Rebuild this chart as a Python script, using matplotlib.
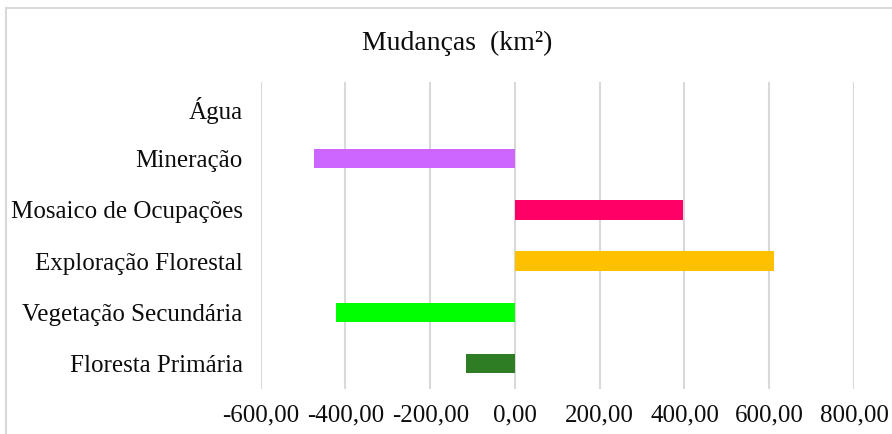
import numpy as np
import matplotlib.pyplot as plt
from matplotlib.lines import Line2D
from matplotlib.ticker import FuncFormatter

# dados (bottom to top)
categorias = ['Floresta Primária', 'Vegetação Secundária', 'Exploração Florestal',
              'Mosaico de Ocupações', 'Mineração', 'Água']
mudancas = [-115, -423, 611, 396, -474, 0]
cores = ['#2E7D24', '#00FF00', '#FFC000', '#FF0066', '#CC66FF', '#5B9BD5']
xticks = [-600, -400, -200, 0, 200, 400, 600, 800]

plt.rcParams['font.family'] = ['Liberation Serif', 'DejaVu Serif']

fig = plt.figure(figsize=(8.92, 4.34), dpi=100)
ax = fig.add_axes([0.2923, 0.1037, 0.6651, 0.7073])

y = np.arange(len(categorias))
ax.barh(y, mudancas, height=0.38, color=cores, zorder=3)

ax.set_xlim(-600, 800)
ax.set_ylim(-0.5, len(categorias) - 0.5)
ax.set_xticks(xticks)
ax.xaxis.set_major_formatter(FuncFormatter(lambda v, p: f'{v:.2f}'.replace('.', ',')))
ax.set_yticks(y)
ax.set_yticklabels(categorias)
ax.tick_params(axis='both', length=0, labelsize=18, colors='#0d0d0d')
ax.tick_params(axis='y', pad=13)
ax.tick_params(axis='x', pad=11)
ax.grid(axis='x', color='#D9D9D9', linewidth=1.5, zorder=0)
for s in ax.spines.values():
    s.set_visible(False)

fig.text(0.512, 0.90, 'Mudanças  (km²)', ha='center', va='center', fontsize=20, color='#0d0d0d')

# chart frame
fig.add_artist(Line2D([6/892, 1], [1 - 8/434, 1 - 8/434], color='#D9D9D9', lw=1.5))
fig.add_artist(Line2D([6/892, 6/892], [0, 1 - 8/434], color='#D9D9D9', lw=1.5))

fig.savefig('out.png', dpi=100)
